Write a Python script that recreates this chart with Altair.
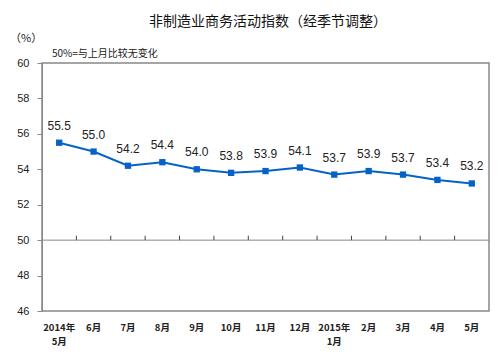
import altair as alt
import pandas as pd

months = ["2014年|5月", "6月", "7月", "8月", "9月", "10月", "11月", "12月",
          "2015年|1月", "2月", "3月", "4月", "5月"]
values = [55.5, 55.0, 54.2, 54.4, 54.0, 53.8, 53.9, 54.1, 53.7, 53.9, 53.7, 53.4, 53.2]
y_ticks = [46, 48, 50, 52, 54, 56, 58, 60]

df = pd.DataFrame({"m": months, "v": values, "lab": [f"{v:.1f}" for v in values]})
boundaries = pd.DataFrame({"m": months[1:], "y": [50] * 12, "y2": [50.25] * 12})

blue = "#0563C8"
xscale = alt.Scale(domain=months, paddingInner=0, paddingOuter=0)
yscale = alt.Scale(domain=[46, 60], nice=False, zero=False)

x_axis = alt.Axis(title=None, ticks=False, domain=False, labelAngle=0,
                  labelExpr="split(datum.label, '|')", labelFont="Noto Sans CJK SC",
                  labelFontSize=9.5, labelFontWeight="bold", labelColor="#222",
                  labelPadding=11, labelLineHeight=14, labelBaseline="top",
                  labelOverlap=False)
y_axis = alt.Axis(title=None, values=y_ticks, grid=False, tickSize=5, tickColor="#888",
                  domainColor="#888", labelFont="Liberation Sans", labelFontSize=11,
                  labelColor="#222", labelPadding=8, labelOverlap=False)

X = lambda **kw: alt.X("m:N", sort=months, scale=xscale, axis=x_axis, **kw)

base = alt.Chart(df)

line = base.mark_line(color=blue, strokeWidth=2).encode(
    x=X(), y=alt.Y("v:Q", scale=yscale, axis=y_axis),
)
pts = base.mark_square(color=blue, size=40, opacity=1).encode(
    x=X(), y=alt.Y("v:Q", scale=yscale, axis=y_axis),
)
labels = base.mark_text(font="Liberation Sans", fontSize=12, color="#222",
                        baseline="middle", dy=-17).encode(
    x=X(), y=alt.Y("v:Q", scale=yscale, axis=y_axis), text="lab:N",
)
fifty = alt.Chart(pd.DataFrame({"y": [50]})).mark_rule(color="#888", strokeWidth=1).encode(
    y=alt.Y("y:Q", scale=yscale, axis=y_axis)
)
ticks = alt.Chart(boundaries).mark_rule(color="#444", strokeWidth=1).encode(
    x=X(bandPosition=0),
    y=alt.Y("y:Q", scale=yscale, axis=y_axis),
    y2="y2:Q",
)
ann = pd.DataFrame({"t": ["非制造业商务活动指数（经季节调整）", "（%）", "50%=与上月比较无变化"]})
title = alt.Chart(ann.iloc[[0]]).mark_text(font="Noto Sans CJK SC", fontSize=14,
                                           color="#111", align="center",
                                           baseline="middle").encode(
    x=alt.value(226), y=alt.value(-41), text="t:N")
pct = alt.Chart(ann.iloc[[1]]).mark_text(font="Noto Sans CJK SC", fontSize=11, color="#222",
                                         align="left", baseline="middle").encode(
    x=alt.value(-32), y=alt.value(-24), text="t:N")
note = alt.Chart(ann.iloc[[2]]).mark_text(font="Noto Sans CJK SC", fontSize=10, color="#222",
                                          align="left", baseline="middle").encode(
    x=alt.value(10), y=alt.value(-9), text="t:N")

chart = alt.layer(line, fifty, ticks, pts, labels, title, pct, note).properties(
    width=447, height=248,
    autosize=alt.AutoSizeParams(type="none"),
    padding={"left": 42, "top": 63, "right": 11, "bottom": 41},
    background="white",
).configure_view(stroke="#888", strokeWidth=1.5)

chart.save("out.html", embed_options={"renderer": "svg", "actions": False})
